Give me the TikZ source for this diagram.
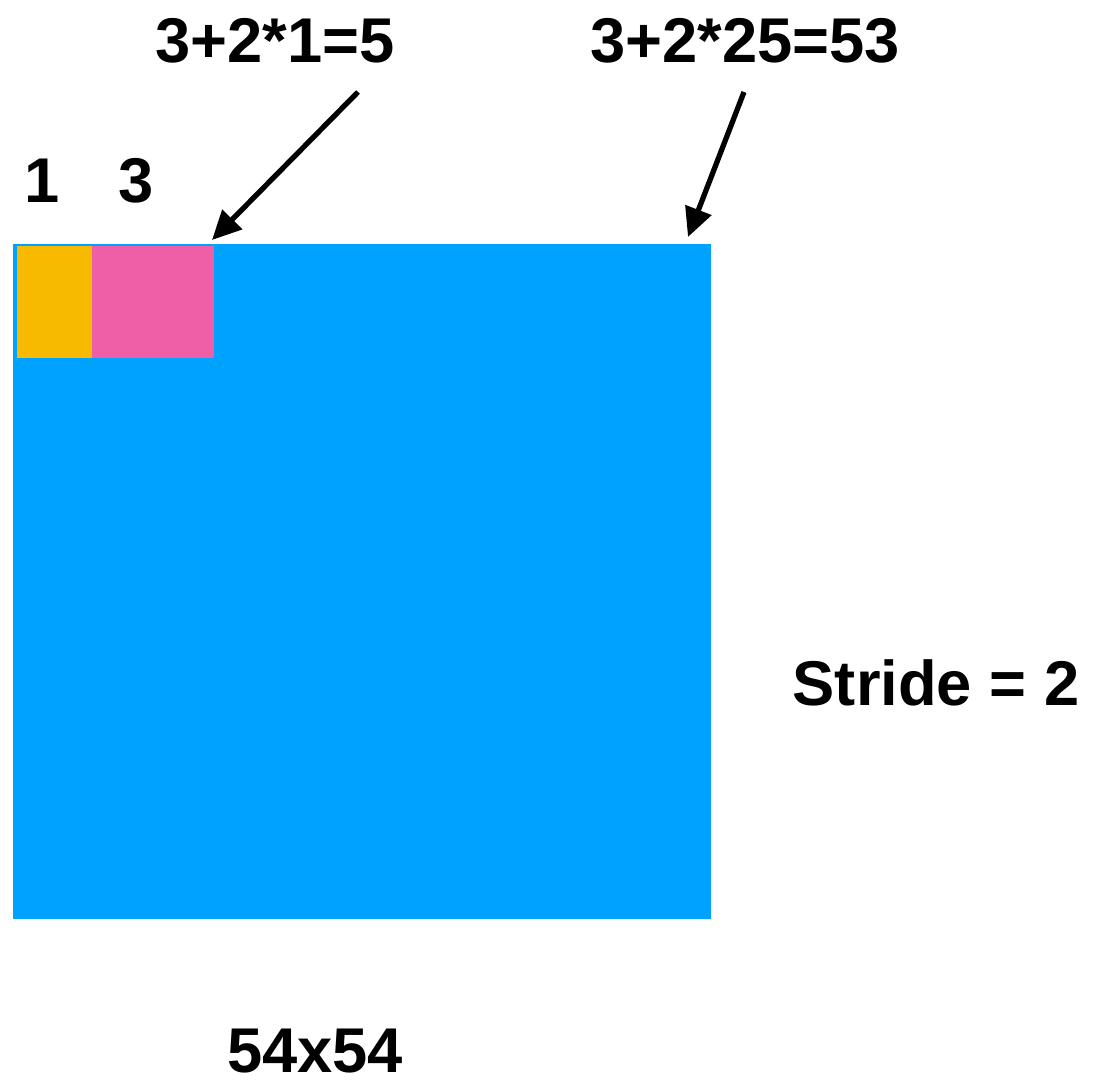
\documentclass[tikz,border=0pt]{standalone}
\usepackage{fontspec}
\setmainfont{Liberation Sans}
\usetikzlibrary{arrows.meta}
\definecolor{gridblue}{HTML}{00A2FF}
\definecolor{cellorange}{HTML}{F8BA00}
\definecolor{cellpink}{HTML}{EF5FA7}
\tikzset{
  lbl/.style={font=\fontsize{36}{40}\selectfont\bfseries, anchor=base, inner sep=0pt},
  pointer/.style={line width=3pt, -{Triangle[length=0.58cm,width=0.54cm]}}
}
\begin{document}
\begin{tikzpicture}[x=0.02cm, y=-0.02cm]
  \useasboundingbox (0,0) rectangle (1093,1087);
  %% ── Feature map and first receptive cells ─────────────────
  \fill[gridblue]   (13,244) rectangle (711,919);
  \fill[cellorange] (17,246) rectangle (92,358);
  \fill[cellpink]   (92,246) rectangle (214,358);

  %% ── Labels ───────────────────────────────────────────────
  \node[lbl] (one)    at (42,203)   {1};
  \node[lbl] (three)  at (136,203)  {3};
  \node[lbl] (first)  at (275,63)   {3+2*1=5};
  \node[lbl] (last)   at (745,63)   {3+2*25=53};
  \node[lbl] (stride) at (936,706)  {Stride = 2};
  \node[lbl] (size)   at (315,1072) {54x54};

  %% ── Arrows to the grid ───────────────────────────────────
  \coordinate (firsttail) at (358,92);
  \coordinate (firsttip)  at (212,240);
  \coordinate (lasttail)  at (744,92);
  \coordinate (lasttip)   at (688,237);
  \draw[pointer] (firsttail) -- (firsttip);
  \draw[pointer] (lasttail) -- (lasttip);
\end{tikzpicture}
\end{document}
